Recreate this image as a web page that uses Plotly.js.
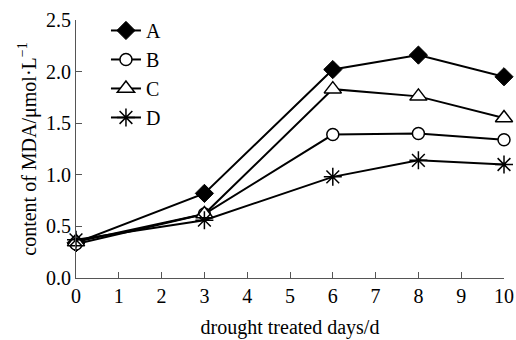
<!DOCTYPE html>
<html><head><meta charset="utf-8">
<script src="https://cdn.plot.ly/plotly-3.0.1.min.js"></script>
<style>html,body{margin:0;padding:0;background:#fff}#chart{width:516px;height:340px}</style>
</head><body><div id="chart"></div>
<script>
const days = [0, 3, 6, 8, 10];
const seriesA = [0.34, 0.82, 2.02, 2.16, 1.95];
const seriesB = [0.33, 0.62, 1.39, 1.40, 1.34];
const seriesC = [0.35, 0.62, 1.83, 1.76, 1.55];
const seriesD = [0.37, 0.56, 0.98, 1.14, 1.10];
const names = ['A', 'B', 'C', 'D'];
const xTicks = [0,1,2,3,4,5,6,7,8,9,10];
const yTicks = [0, 0.5, 1.0, 1.5, 2.0, 2.5];

const fam = '"Liberation Serif", "Times New Roman", serif';
const markers = [
  {symbol: 'diamond', size: 14, color: '#000', line: {color: '#000', width: 1}},
  {symbol: 'circle', size: 12, color: '#fff', line: {color: '#000', width: 1.5}},
  {symbol: 'triangle-up', size: 15, color: '#fff', line: {color: '#000', width: 1.5}},
  {symbol: 'asterisk-open', size: 15, color: '#000', line: {color: '#000', width: 1.5}}
];
const data = [seriesA, seriesB, seriesC, seriesD].map((ys, i) => ({
  x: days, y: ys, name: names[i], type: 'scatter', mode: 'lines+markers',
  legendgroup: names[i],
  line: {color: '#000', width: 2},
  marker: markers[i], cliponaxis: false
}));

const layout = {
  width: 516, height: 340,
  margin: {l: 76, r: 12, t: 20, b: 62, autoexpand: false},
  paper_bgcolor: '#fff', plot_bgcolor: '#fff',
  font: {family: fam, color: '#000', size: 20},
  showlegend: true,
  legend: {x: 0.07, y: 1.035, xanchor: 'left', yanchor: 'top', bgcolor: 'rgba(0,0,0,0)',
           font: {family: fam, size: 20, color: '#000'}, tracegroupgap: 0, traceorder: 'grouped'},
  xaxis: {
    range: [0, 10], tickvals: xTicks, ticktext: xTicks.map(String), automargin: false,
    ticks: 'inside', ticklen: 6, tickcolor: '#555', showline: true, linecolor: '#555', linewidth: 1,
    showgrid: false, zeroline: false, tickfont: {size: 20, family: fam},
    title: {text: 'drought treated days/d', font: {size: 20, family: fam}, standoff: 13}
  },
  yaxis: {
    range: [0, 2.5], tickvals: yTicks, ticktext: yTicks.map(v => v.toFixed(1)), automargin: false,
    ticks: 'inside', ticklen: 6, tickcolor: '#555', showline: true, linecolor: '#555', linewidth: 1,
    showgrid: false, zeroline: false, tickfont: {size: 20, family: fam},
    title: {text: 'content of MDA/μmol·L<sup>−1</sup>', font: {size: 20, family: fam}, standoff: 4}
  }
};
Plotly.newPlot('chart', data, layout, {displayModeBar: false, staticPlot: true});
</script></body></html>
